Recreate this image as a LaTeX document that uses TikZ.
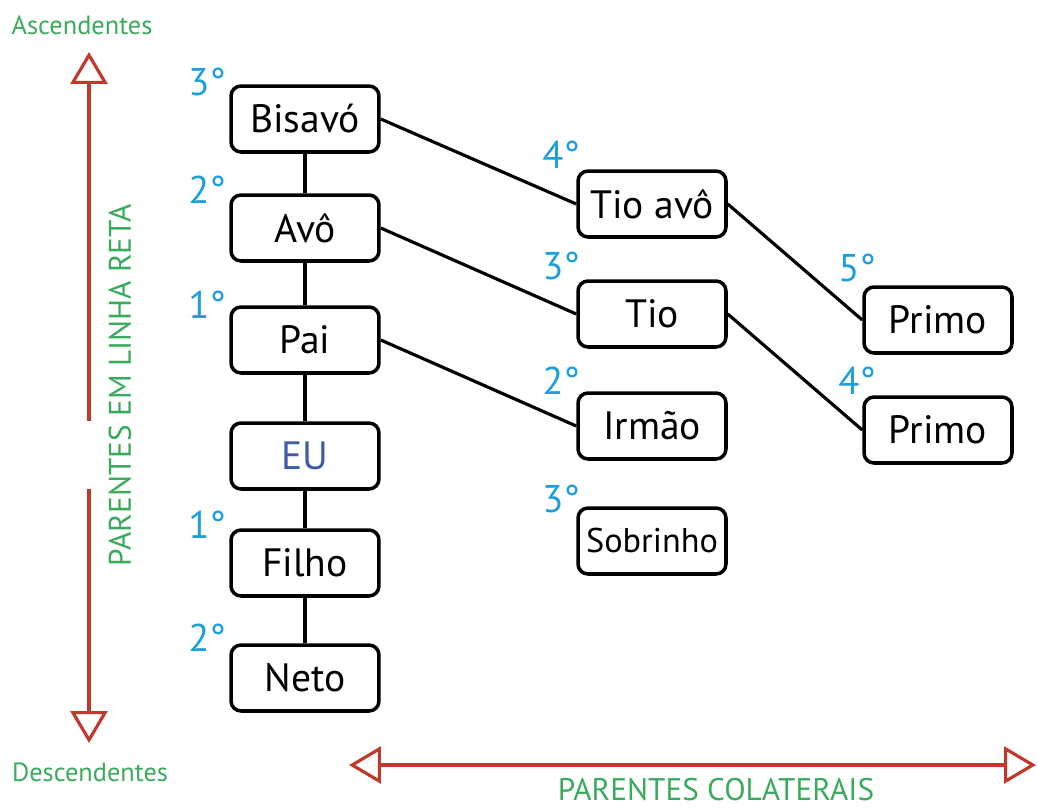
\documentclass[tikz,border=0pt]{standalone}
\usepackage{fontspec}
\setmainfont{PT Sans}
\usetikzlibrary{arrows.meta}
\definecolor{grau}{HTML}{1E9FDC}
\definecolor{verde}{HTML}{3AAA5C}
\definecolor{seta}{HTML}{C0392B}
\definecolor{eu}{HTML}{3E5CA8}
\begin{document}
\begin{tikzpicture}[x=0.02cm, y=-0.02cm,
        pessoa/.style={rectangle, rounded corners=0.2cm, draw, line width=2pt, minimum width=2.96cm, minimum height=1.32cm, font=\fontsize{22.5}{26}\selectfont},
        grau/.style={text=grau, font=\fontsize{22}{26}\selectfont, inner sep=0pt},
        lado/.style={text=verde, font=\fontsize{15}{18}\selectfont, inner sep=0pt},
        eixo/.style={text=verde, font=\fontsize{17.8}{20}\selectfont, inner sep=0pt},
        liga/.style={line width=1.8pt},
        seta/.style={draw=seta, line width=1.8pt, -{Triangle[open, length=0.64cm, width=0.74cm]}}
      ]
      \useasboundingbox (0,0) rectangle (1038,808);
      % linha reta
      \node[pessoa] (bisavo) at (305,119) {Bisavó};
      \node[pessoa] (avo) at (305,228) {Avô};
      \node[pessoa] (pai) at (305,340) {Pai};
      \node[pessoa, text=eu] (eu) at (305,456) {EU};
      \node[pessoa] (filho) at (305,563) {Filho};
      \node[pessoa] (neto) at (305,678) {Neto};
      % colaterais
      \node[pessoa] (tioavo) at (652,204) {Tio avô};
      \node[pessoa] (tio) at (652,314) {Tio};
      \node[pessoa] (irmao) at (652,426) {Irmão};
      \node[pessoa, font=\fontsize{19.5}{22}\selectfont] (sobrinho) at (652,541) {Sobrinho};
      \node[pessoa] (primo1) at (938,320) {Primo};
      \node[pessoa] (primo2) at (938,430) {Primo};
      % graus
      \node[grau] (g1) at (207,82) {3°};
      \node[grau] (g2) at (207,190) {2°};
      \node[grau] (g3) at (207,305) {1°};
      \node[grau] (g4) at (207,525) {1°};
      \node[grau] (g5) at (207,638) {2°};
      \node[grau] (g6) at (561,155) {4°};
      \node[grau] (g7) at (561,266) {3°};
      \node[grau] (g8) at (561,381) {2°};
      \node[grau] (g9) at (561,499) {3°};
      \node[grau] (g10) at (857,268) {5°};
      \node[grau] (g11) at (857,381) {4°};
      % ligacoes
      \draw[liga] (bisavo) -- (avo);
      \draw[liga] (avo) -- (pai);
      \draw[liga] (pai) -- (eu);
      \draw[liga] (eu) -- (filho);
      \draw[liga] (filho) -- (neto);
      \draw[liga] (bisavo.east) -- (tioavo.west);
      \draw[liga] (avo.east) -- (tio.west);
      \draw[liga] (pai.east) -- (irmao.west);
      \draw[liga] (tioavo.east) -- (primo1.west);
      \draw[liga] (tio.east) -- (primo2.west);
      % eixos
      \coordinate (cima) at (89,52);
      \coordinate (cimabase) at (89,421);
      \coordinate (baixobase) at (89,489);
      \coordinate (baixo) at (89,743);
      \coordinate (esq) at (349,765);
      \coordinate (dir) at (1036,765);
      \draw[seta] (cimabase) -- (cima);
      \draw[seta] (baixobase) -- (baixo);
      \draw[seta, {Triangle[open, length=0.64cm, width=0.74cm]}-{Triangle[open, length=0.64cm, width=0.74cm]}] (esq) -- (dir);
      \node[lado] (asc) at (82,25) {Ascendentes};
      \node[lado] (desc) at (90,772) {Descendentes};
      \node[eixo, rotate=90] (reta) at (120,385) {PARENTES EM LINHA RETA};
      \node[eixo] (colat) at (716,790) {PARENTES COLATERAIS};
    \end{tikzpicture}
\end{document}
